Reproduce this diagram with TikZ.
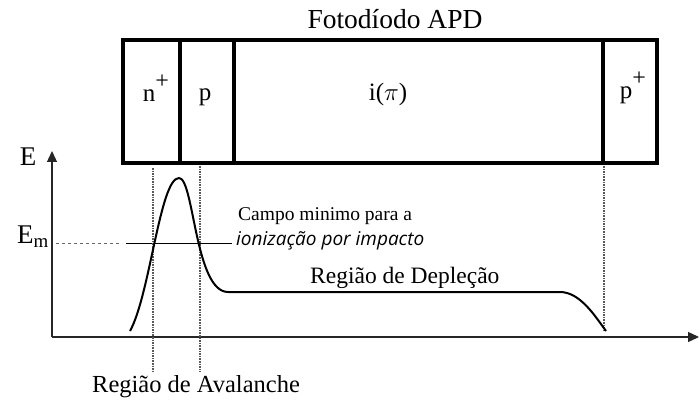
\documentclass[tikz,border=0pt]{standalone}
\usepackage{fontspec}
\setmainfont{Liberation Serif}
\newfontfamily\itsans{Open Sans}
\usetikzlibrary{arrows.meta}
\newcommand{\plussup}{\raisebox{0.5em}{\fontsize{24}{24}\selectfont +}}
\begin{document}
\begin{tikzpicture}[x=1pt,y=-1pt,
  layer/.style={draw,line width=3.5pt},
  big/.style={font=\rmfamily\fontsize{25}{28}\selectfont},
  guide/.style={densely dotted,line width=1.6pt,gray!70!black},
  axis/.style={line width=1.3pt,gray!30!black,-{Triangle[length=11pt,width=10pt]}}]
\useasboundingbox (0,0) rectangle (699,401);
% diode layers
\draw[layer] (123,40) rectangle (657,163);
\draw[layer] (180,40) -- (180,163);
\draw[layer] (234,40) -- (234,163);
\draw[layer] (603,40) -- (603,163);
\node[font=\rmfamily\fontsize{27.5}{30}\selectfont] (title) at (395,19) {Fotodíodo APD};
\node[big,inner sep=0pt] (n) at (156,88) {n\plussup};
\node[big] (p) at (205,97) {p};
\node[big] (i) at (388,94) {i($\pi$)};
\node[big,inner sep=0pt] (pp) at (633,88) {p\plussup};
% axes
\coordinate (O) at (52,337);
\coordinate (Ytop) at (52,151);
\coordinate (Xend) at (699,337);
\draw[axis] (O) -- (Ytop);
\draw[axis] (O) -- (Xend);
\node[font=\rmfamily\fontsize{27}{30}\selectfont] (E) at (28,157) {E};
\node[font=\rmfamily\fontsize{27}{30}\selectfont,anchor=east,inner sep=1pt] (Em) at (50,237) {E$_{\mathrm{m}}$};
% threshold line
\coordinate (d1) at (56,243);
\coordinate (d2) at (122,243);
\coordinate (s1) at (126,243);
\coordinate (s2) at (232,243);
\draw[dashed,line width=1pt,gray!80!black] (d1) -- (d2);
\draw[line width=1pt] (s1) -- (s2);
\node[font=\rmfamily\fontsize{19.5}{22}\selectfont,anchor=base west,inner sep=0pt] (campo) at (238,220) {Campo minimo para a};
\node[font=\itsans\itshape\fontsize{19}{22}\selectfont,anchor=base west,inner sep=0pt] (ioniz) at (236,245) {ionização por impacto};
% guide lines
\coordinate (g1t) at (153,168);
\coordinate (g1b) at (153,372);
\coordinate (g2t) at (200,166);
\coordinate (g2b) at (200,372);
\coordinate (g3t) at (604,166);
\coordinate (g3b) at (604,332);
\draw[guide] (g1t) -- (g1b);
\draw[guide] (g2t) -- (g2b);
\draw[guide] (g3t) -- (g3b);
% field curve
\draw[line width=2pt,line join=round]
  (130,331) .. controls (150,295) and (160,178) .. (179,178)
  .. controls (194,178) and (195,292) .. (228,292)
  -- (560,292) .. controls (580,292) and (595,316) .. (606,331);
\node[font=\rmfamily\fontsize{23.5}{26}\selectfont,anchor=base west,inner sep=0pt] (dep) at (310,283) {Região de Depleção};
\node[font=\rmfamily\fontsize{24.5}{27}\selectfont,anchor=base west,inner sep=0pt] (ava) at (92,392) {Região de Avalanche};
\end{tikzpicture}
\end{document}
